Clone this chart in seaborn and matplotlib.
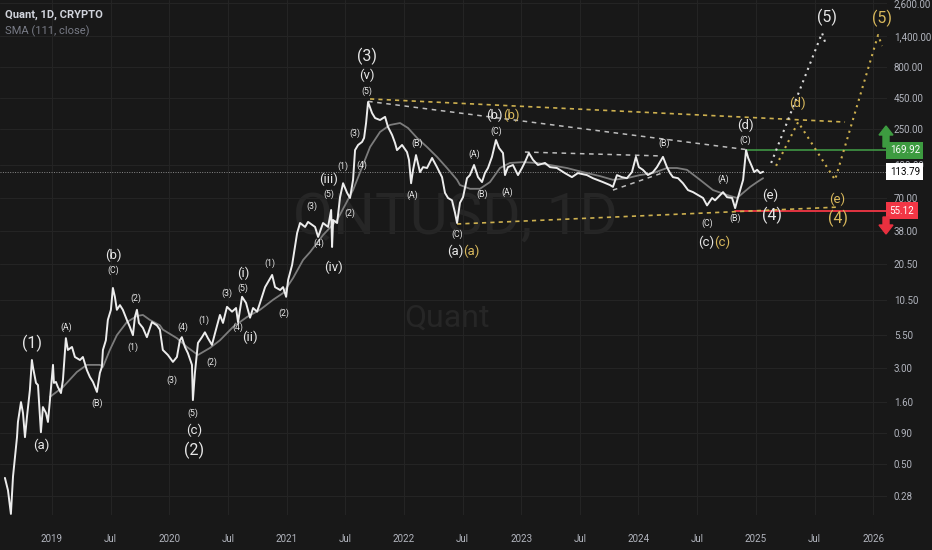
import numpy as np
import pandas as pd
import matplotlib
matplotlib.use("Agg")
import matplotlib.pyplot as plt
import matplotlib.dates as mdates
import matplotlib.transforms as mtransforms
from matplotlib.patches import FancyArrow
from matplotlib.ticker import NullLocator
from matplotlib import font_manager
import seaborn as sns

# ---------------- data (decimal year, USD) ----------------
price_year = [
    2018.599, 2018.625, 2018.650, 2018.668, 2018.685, 2018.702, 2018.710, 2018.736, 2018.753, 2018.770,
    2018.787, 2018.812, 2018.829, 2018.838, 2018.864, 2018.881, 2018.906, 2018.923, 2018.949, 2018.966,
    2018.983, 2019.009, 2019.017, 2019.034, 2019.051, 2019.077, 2019.094, 2019.119, 2019.136, 2019.171,
    2019.196, 2019.239, 2019.264, 2019.298, 2019.324, 2019.350, 2019.384, 2019.409, 2019.426, 2019.435,
    2019.460, 2019.477, 2019.503, 2019.520, 2019.537, 2019.554, 2019.580, 2019.605, 2019.639, 2019.665,
    2019.691, 2019.708, 2019.725, 2019.742, 2019.776, 2019.810, 2019.853, 2019.895, 2019.921, 2019.946,
    2019.989, 2020.032, 2020.066, 2020.091, 2020.108, 2020.134, 2020.159, 2020.194, 2020.202, 2020.219,
    2020.245, 2020.279, 2020.304, 2020.330, 2020.364, 2020.390, 2020.432, 2020.458, 2020.492, 2020.535,
    2020.569, 2020.586, 2020.620, 2020.654, 2020.688, 2020.714, 2020.748, 2020.773, 2020.816, 2020.841,
    2020.876, 2020.901, 2020.944, 2020.969, 2020.995, 2021.012, 2021.046, 2021.089, 2021.114, 2021.157,
    2021.182, 2021.242, 2021.268, 2021.310, 2021.353, 2021.379, 2021.387, 2021.396, 2021.430, 2021.455,
    2021.481, 2021.515, 2021.540, 2021.566, 2021.583, 2021.609, 2021.643, 2021.660, 2021.677, 2021.694,
    2021.728, 2021.754, 2021.796, 2021.839, 2021.864, 2021.899, 2021.924, 2021.941, 2021.984, 2022.026,
    2022.043, 2022.061, 2022.078, 2022.103, 2022.137, 2022.163, 2022.197, 2022.240, 2022.282, 2022.325,
    2022.350, 2022.376, 2022.410, 2022.436, 2022.453, 2022.478, 2022.504, 2022.538, 2022.563, 2022.598,
    2022.632, 2022.666, 2022.691, 2022.717, 2022.751, 2022.785, 2022.811, 2022.845, 2022.862, 2022.887,
    2022.930, 2022.973, 2023.007, 2023.032, 2023.066, 2023.101, 2023.143, 2023.203, 2023.246, 2023.305,
    2023.373, 2023.433, 2023.484, 2023.561, 2023.612, 2023.697, 2023.757, 2023.783, 2023.817, 2023.859,
    2023.902, 2023.945, 2023.979, 2024.004, 2024.038, 2024.081, 2024.124, 2024.158, 2024.183, 2024.209,
    2024.243, 2024.269, 2024.294, 2024.337, 2024.379, 2024.422, 2024.465, 2024.507, 2024.550, 2024.584,
    2024.627, 2024.652, 2024.678, 2024.720, 2024.754, 2024.797, 2024.823, 2024.848, 2024.874, 2024.891,
    2024.916, 2024.934, 2024.968, 2024.985, 2025.010, 2025.036, 2025.061,
]
price_close = [
    0.39, 0.31, 0.20, 0.40, 0.575, 0.83, 1.10, 1.59, 1.30, 0.83,
    1.21, 1.99, 3.47, 3.05, 2.27, 2.18, 0.91, 1.45, 1.30, 1.10,
    1.65, 3.17, 2.27, 2.31, 2.10, 1.88, 2.40, 5.2, 4.18, 4.42,
    3.67, 3.47, 3.67, 2.88, 2.53, 2.31, 1.92, 2.73, 3.05, 4.18,
    5.0, 7.3, 8.8, 13.2, 11.2, 8.8, 9.6, 8.8, 7.3, 6.4,
    5.5, 7.7, 8.8, 6.9, 6.3, 5.3, 7.0, 6.6, 6.1, 4.18,
    3.81, 3.35, 3.67, 5.0, 5.3, 4.42, 3.95, 3.17, 1.65, 2.73,
    4.76, 5.3, 5.8, 5.2, 4.59, 5.7, 8.0, 6.9, 9.3, 8.5,
    9.1, 7.0, 11.2, 10.0, 7.6, 9.1, 8.5, 10.0, 13.4, 14.7,
    16.8, 13.4, 12.7, 13.4, 11.2, 15.3, 20.2, 36.6, 44.0, 40.9,
    44.9, 40.9, 34.0, 44.0, 40.9, 56, 28.2, 46.5, 44.0, 71,
    92, 77, 70, 98, 170, 187, 198, 213, 281, 415,
    338, 308, 297, 315, 261, 225, 194, 170, 187, 164,
    142, 92, 118, 155, 113, 124, 122, 147, 124, 103,
    77, 70, 67, 53, 44.0, 64, 71, 101, 107, 129,
    103, 94, 111, 122, 150, 205, 177, 161, 107, 124,
    129, 107, 122, 136, 161, 142, 129, 134, 124, 122,
    111, 103, 111, 107, 101, 94, 89, 86, 107, 103,
    101, 113, 150, 124, 118, 107, 113, 124, 136, 150,
    124, 111, 103, 101, 92, 81, 78, 74, 70, 61,
    70, 67, 71, 78, 71, 70, 58, 71, 86, 98,
    170, 147, 124, 113, 118, 111, 113.79,
]
sma_year = [
    2018.983, 2019.094, 2019.213, 2019.298, 2019.409, 2019.435, 2019.494, 2019.554, 2019.639, 2019.725,
    2019.776, 2019.835, 2019.921, 2019.946, 2020.066, 2020.151, 2020.245, 2020.347, 2020.432, 2020.543,
    2020.662, 2020.773, 2020.884, 2020.969, 2021.055, 2021.140, 2021.200, 2021.310, 2021.430, 2021.566,
    2021.711, 2021.796, 2021.881, 2021.967, 2022.035, 2022.112, 2022.197, 2022.282, 2022.367, 2022.453,
    2022.478, 2022.563, 2022.649, 2022.734, 2022.819, 2022.904, 2023.015, 2023.135, 2023.246, 2023.390,
    2023.527, 2023.672, 2023.783, 2023.902, 2024.013, 2024.124, 2024.243, 2024.328, 2024.413, 2024.524,
    2024.635, 2024.754, 2024.840, 2024.891, 2024.951, 2025.010, 2025.061,
]
sma_value = [
    1.75, 2.10, 2.78, 3.17, 3.17, 3.05, 4.18, 5.5, 7.0, 7.85,
    8.0, 7.3, 6.6, 6.1, 5.2, 4.42, 3.81, 4.34, 5.0, 6.4,
    7.7, 8.8, 10.6, 12.0, 15.9, 22.2, 25.7, 35.2, 46.5, 81,
    180, 238, 271, 281, 256, 213, 180, 150, 122, 98,
    89, 83, 83, 94, 122, 134, 136, 134, 129, 122,
    113, 105, 98, 101, 107, 111, 122, 122, 118, 98,
    81, 74, 70, 77, 86, 94, 101,
]
# trend lines: (year0, price0, year1, price1)
white_dashed = [(2021.694, 420, 2024.910, 172),
                (2023.032, 164, 2024.200, 152.5),
                (2023.783, 81, 2024.200, 111)]
gold_dashed = [(2021.711, 439, 2025.760, 286),
               (2022.453, 43.2, 2025.718, 59.2)]
# projected paths
proj_white_year = [2025.130, 2025.564, 2025.598]
proj_white_price = [134, 1491, 1194]
proj_gold_year = [2025.172, 2025.360, 2025.675, 2026.042, 2026.076]
proj_gold_price = [127, 286, 98, 1437, 1172]
# levels
last_price = 113.79
resistance = 169.92
support = 55.12
resistance_start = 2024.916
support_start = 2024.823

y_ticks = [2600, 1400, 800, 450, 250, 130, 70, 38, 20.5, 10.5, 5.5, 3.0, 1.6, 0.9, 0.5, 0.28]
x_tick_years = [2019.0, 2019.5, 2020.0, 2020.5, 2021.0, 2021.5, 2022.0, 2022.5, 2023.0,
                2023.5, 2024.0, 2024.5, 2025.0, 2025.5, 2026.0]

WHITE = "#e6e6e6"
GOLD = "#d8b85c"
# wave labels: text, year, price, size, colour
big, mid, small = 11.5, 9.5, 6.3
wave_labels = [
    ("(1)", 2018.829, 4.76, big, WHITE), ("(2)", 2020.211, 0.655, big, WHITE),
    ("(3)", 2021.685, 973, big, WHITE), ("(5)", 2025.607, 2006, big, WHITE),
    ("(5)", 2026.076, 1970, big, GOLD), ("(4)", 2025.138, 51.1, big, WHITE),
    ("(4)", 2025.701, 48.3, big, GOLD),
    ("(a)", 2018.906, 0.718, mid, WHITE), ("(b)", 2019.520, 24.3, mid, WHITE),
    ("(c)", 2020.211, 0.948, mid, WHITE), ("(i)", 2020.628, 17.4, mid, WHITE),
    ("(ii)", 2020.688, 5.3, mid, WHITE), ("(iii)", 2021.361, 99.5, mid, WHITE),
    ("(iv)", 2021.396, 19.5, mid, WHITE), ("(v)", 2021.685, 684, mid, WHITE),
    ("(d)", 2024.908, 271, mid, WHITE), ("(d)", 2025.351, 407, mid, GOLD),
    ("(e)", 2025.121, 74, mid, WHITE), ("(e)", 2025.692, 68.7, mid, GOLD),
    ("(A)", 2019.119, 6.4, small, WHITE), ("(B)", 2019.384, 1.56, small, WHITE),
    ("(C)", 2019.520, 18.4, small, WHITE), ("(1)", 2019.691, 4.42, small, WHITE),
    ("(2)", 2019.716, 10.96, small, WHITE), ("(3)", 2020.023, 2.40, small, WHITE),
    ("(4)", 2020.117, 6.4, small, WHITE), ("(5)", 2020.202, 1.30, small, WHITE),
    ("(1)", 2020.296, 7.3, small, WHITE), ("(2)", 2020.364, 3.35, small, WHITE),
    ("(3)", 2020.492, 12.0, small, WHITE), ("(4)", 2020.586, 6.4, small, WHITE),
    ("(5)", 2020.628, 13.2, small, WHITE), ("(1)", 2020.858, 21.0, small, WHITE),
    ("(2)", 2020.978, 8.3, small, WHITE), ("(3)", 2021.217, 60.3, small, WHITE),
    ("(4)", 2021.276, 30.4, small, WHITE), ("(5)", 2021.361, 75.4, small, WHITE),
    ("(1)", 2021.481, 127, small, WHITE), ("(2)", 2021.540, 53, small, WHITE),
    ("(3)", 2021.583, 234, small, WHITE), ("(4)", 2021.643, 129, small, WHITE),
    ("(5)", 2021.685, 509, small, WHITE), ("(A)", 2022.069, 74, small, WHITE),
    ("(B)", 2022.112, 194, small, WHITE), ("(C)", 2022.453, 35.9, small, WHITE),
    ("(A)", 2022.598, 158, small, WHITE), ("(B)", 2022.666, 75.4, small, WHITE),
    ("(C)", 2022.785, 242, small, WHITE), ("(A)", 2022.879, 78, small, WHITE),
    ("(B)", 2024.217, 194, small, WHITE), ("(C)", 2024.584, 44, small, WHITE),
    ("(A)", 2024.720, 99.5, small, WHITE), ("(B)", 2024.823, 48.3, small, WHITE),
    ("(C)", 2024.908, 205, small, WHITE),
]
# two-colour labels: text, year of the seam, price
pair_labels = [("(a)", 2022.508, 26.2), ("(b)", 2022.845, 326), ("(c)", 2024.648, 31.0)]


def to_dt(y):
    y0 = int(np.floor(y))
    a = pd.Timestamp(year=y0, month=1, day=1)
    b = pd.Timestamp(year=y0 + 1, month=1, day=1)
    return a + (b - a) * (y - y0)


def xnum(y):
    return mdates.date2num(to_dt(y))


# ---------------- style ----------------
sns.set_theme(style="dark")
avail = {f.name for f in font_manager.fontManager.ttflist}
FONT = "Liberation Sans Narrow" if "Liberation Sans Narrow" in avail else "Roboto"
plt.rcParams["font.family"] = [FONT, "DejaVu Sans"]

BG = "#181818"
GRID = "#242424"
AXTXT = "#b2b5be"

fig = plt.figure(figsize=(9.32, 5.5), dpi=100, facecolor=BG)
ax = fig.add_axes([0, 35 / 550, 887 / 932, 515 / 550], facecolor=BG)

x_min, x_max = to_dt(2018.557), to_dt(2026.118)

# watermark
ax.text(0.513, 0.577, "QNTUSD, 1D", transform=ax.transAxes, ha="center", va="center",
        fontsize=42, color="#262626", zorder=0)
ax.text(0.504, 0.383, "Quant", transform=ax.transAxes, ha="center", va="center",
        fontsize=23, color="#262626", zorder=0)

price_df = pd.DataFrame({"date": [to_dt(y) for y in price_year], "close": price_close})
sma_df = pd.DataFrame({"date": [to_dt(y) for y in sma_year], "sma": sma_value})

sns.lineplot(data=sma_df, x="date", y="sma", ax=ax, color="#7c7c7c", lw=1.3,
             estimator=None, sort=False, zorder=3)
sns.lineplot(data=price_df, x="date", y="close", ax=ax, color="#ececec", lw=1.4,
             estimator=None, sort=False, zorder=4)

# trend lines
for y0, p0, y1, p1 in white_dashed:
    ax.plot([to_dt(y0), to_dt(y1)], [p0, p1], color="#bdbdbd", lw=1.1,
            dashes=(3, 3), zorder=3.5)
for y0, p0, y1, p1 in gold_dashed:
    ax.plot([to_dt(y0), to_dt(y1)], [p0, p1], color="#cdb04f", lw=1.2,
            dashes=(2.5, 2.5), zorder=3.5)

ax.plot([to_dt(y) for y in proj_white_year], proj_white_price, color="#d8d8d8", lw=1.5,
        linestyle=(0, (1, 2.2)), zorder=3.5)
ax.plot([to_dt(y) for y in proj_gold_year], proj_gold_price, color="#cdb04f", lw=1.5,
        linestyle=(0, (1, 2.2)), zorder=3.5)

# levels
ax.axhline(last_price, color="#8a8a8a", lw=0.7, dashes=(1, 1.5), zorder=2)
ax.plot([to_dt(resistance_start), x_max], [resistance, resistance], color="#43a047",
        lw=1.1, zorder=3)
ax.plot([to_dt(support_start), x_max], [support, support], color="#f23645",
        lw=1.3, zorder=3)

# wave labels
for txt, yr, p, size, col in wave_labels:
    ax.text(xnum(yr), p, txt, ha="center", va="center", fontsize=size, color=col, zorder=6)
for txt, yr, p in pair_labels:
    ax.text(xnum(yr), p, txt, ha="right", va="center", fontsize=mid, color=WHITE, zorder=6)
    ax.text(xnum(yr), p, txt, ha="left", va="center", fontsize=mid, color=GOLD, zorder=6)

# axes
ax.set_yscale("log")
ax.set_ylim(0.196, 2749)
ax.set_xlim(x_min, x_max)
ax.yaxis.tick_right()
ax.set_yticks(y_ticks)
ax.set_yticklabels([f"{t:,.2f}" for t in y_ticks])
ax.yaxis.set_minor_locator(NullLocator())
ax.set_xticks([to_dt(y) for y in x_tick_years])
ax.set_xticklabels([str(int(y)) if y == int(y) else "Jul" for y in x_tick_years])
ax.tick_params(axis="y", colors=AXTXT, labelsize=7, length=0, pad=5)
ax.tick_params(axis="x", colors=GRID, labelcolor=AXTXT, labelsize=7, length=4, pad=10)
ax.grid(True, color=GRID, lw=0.8)
ax.set_axisbelow(True)
ax.set_xlabel("")
ax.set_ylabel("")
for s in ax.spines.values():
    s.set_visible(False)

# price boxes on the scale
trans = mtransforms.blended_transform_factory(ax.transAxes, ax.transData)
ax.text(1.003, resistance, f"{resistance:.2f}", transform=trans, ha="left", va="center",
        color="white", fontsize=7, clip_on=False, zorder=10,
        bbox=dict(boxstyle="square,pad=0.35", fc="#3d9b40", ec="none"))
ax.text(1.003, last_price, f"{last_price:.2f}", transform=trans, ha="left", va="center",
        color="black", fontsize=7, clip_on=False, zorder=10,
        bbox=dict(boxstyle="square,pad=0.35", fc="white", ec="none"))
ax.text(1.003, support, f"{support:.2f}", transform=trans, ha="left", va="center",
        color="white", fontsize=7, clip_on=False, zorder=10,
        bbox=dict(boxstyle="square,pad=0.35", fc="#f23645", ec="none"))

# up / down arrows near the scale
fig.patches.append(FancyArrow(886 / 932, 1 - 147 / 550, 0, 12 / 550, width=6 / 932,
                              head_width=14 / 932, head_length=9 / 550, length_includes_head=False,
                              transform=fig.transFigure, color="#3d9b40", zorder=12))
fig.patches.append(FancyArrow(886 / 932, 1 - 217 / 550, 0, -8 / 550, width=6 / 932,
                              head_width=14 / 932, head_length=9 / 550, length_includes_head=False,
                              transform=fig.transFigure, color="#e8303f", zorder=12))

# header
fig.text(5 / 932, 1 - 15 / 550, "Quant, 1D, CRYPTO", ha="left", va="center",
         fontsize=8, color="#d1d4dc", fontweight="bold")
fig.text(5 / 932, 1 - 31 / 550, "SMA (111, close)", ha="left", va="center",
         fontsize=8, color="#787b86")

fig.savefig("out.png", dpi=100, facecolor=BG)
